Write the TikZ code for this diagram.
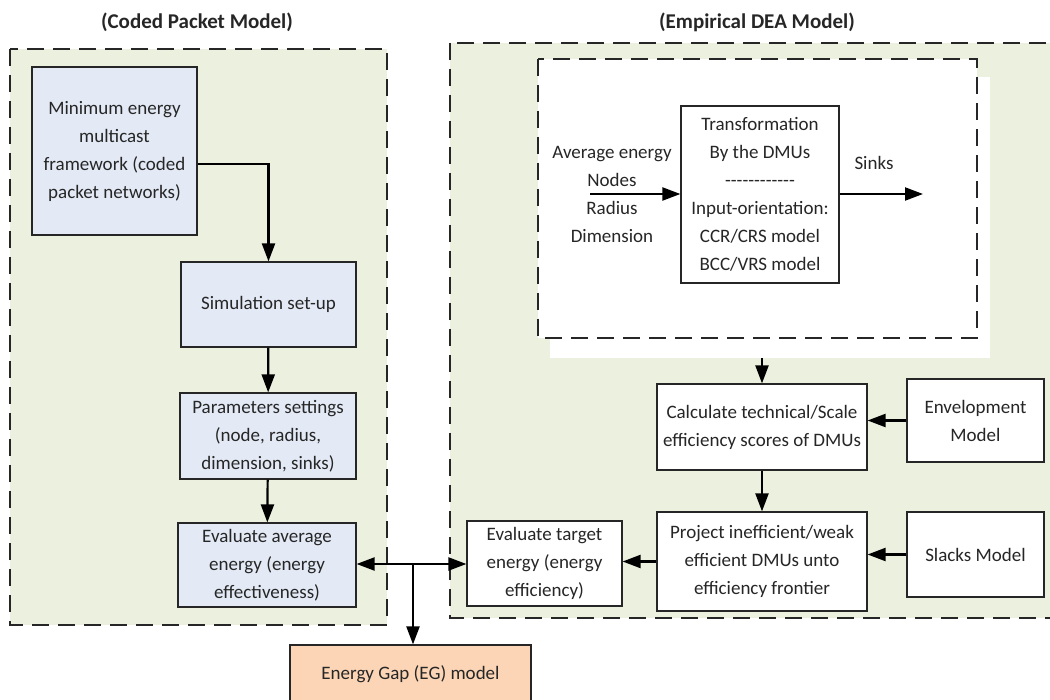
\documentclass[tikz,border=0pt]{standalone}
\usepackage{fontspec}
\setmainfont{Carlito}
\usepackage{tikz}
\usetikzlibrary{arrows.meta, positioning, calc}
\definecolor{PanelGreen}{HTML}{EBF1DE}
\definecolor{StepBlue}{HTML}{E3EAF6}
\definecolor{GapOrange}{HTML}{FBD5B5}
\definecolor{InkGray}{HTML}{262626}
% row of plain hyphens (no dash ligatures)
\newcommand{\hyphenrow}{-{}-{}-{}-{}-{}-{}-{}-{}-{}-{}-{}-}

\begin{document}
\begin{tikzpicture}[x=1pt, y=-1pt,
    txt/.style={font=\fontsize{19}{28}\selectfont, text=InkGray, align=center},
    stepbox/.style={txt, draw=InkGray, line width=1.2pt, inner sep=0pt},
    bluebox/.style={stepbox, fill=StepBlue},
    whitebox/.style={stepbox, fill=white},
    panel/.style={draw=InkGray, line width=1.6pt, dash pattern=on 17pt off 9pt},
    paneltitle/.style={font=\fontsize{21}{25}\selectfont\bfseries, text=InkGray},
    link/.style={line width=2.2pt, -{Triangle[length=18pt, width=13pt]}},
    duplex/.style={line width=2.2pt, {Triangle[length=18pt, width=13pt]}-{Triangle[length=18pt, width=13pt]}}]

    \useasboundingbox (0,0) rectangle (1050,700);
    \clip (0,0) rectangle (1050,700);

    % the two model panels
    \filldraw[panel, fill=PanelGreen] (10,49) rectangle (387,625);
    \filldraw[panel, fill=PanelGreen] (450,43) rectangle (1070,618);
    \node[paneltitle] (cpmtitle) at (197,22) {(Coded Packet Model)};
    \node[paneltitle] (deatitle) at (757,22) {(Empirical DEA Model)};

    % DEA input/output block
    \fill[white] (550,77) rectangle (990,358);
    \filldraw[panel, fill=white] (538,59) rectangle (977,338);

    % coded packet side
    \node[bluebox, minimum width=165pt, minimum height=168pt] (mef) at (114.5,151) {Minimum energy\\multicast\\framework (coded\\packet networks)};
    \node[bluebox, minimum width=175pt, minimum height=85pt] (sim) at (268.5,304.5) {Simulation set-up};
    \node[bluebox, minimum width=176pt, minimum height=86pt] (par) at (268,436) {Parameters settings\\(node, radius,\\dimension, sinks)};
    \node[bluebox, minimum width=178pt, minimum height=84pt] (eva) at (267,565) {Evaluate average\\energy (energy\\effectiveness)};

    % DEA side
    \node[txt] (inputs) at (612,194.5) {Average energy\\Nodes\\Radius\\Dimension};
    \node[whitebox, minimum width=158pt, minimum height=177pt] (trf) at (760,194.5) {Transformation\\By the DMUs\\\hyphenrow\\Input-orientation:\\CCR/CRS model\\BCC/VRS model};
    \node[txt] (sinks) at (874,163) {Sinks};
    \node[whitebox, minimum width=210pt, minimum height=86pt] (calc) at (762,427) {Calculate technical/Scale\\efficiency scores of DMUs};
    \node[whitebox, minimum width=210pt, minimum height=99pt] (proj) at (762,561.5) {Project inefficient/weak\\efficient DMUs unto\\efficiency frontier};
    \node[whitebox, minimum width=155pt, minimum height=85pt] (tgt) at (544.5,563.5) {Evaluate target\\energy (energy\\efficiency)};
    \node[whitebox, minimum width=137pt, minimum height=83pt] (env) at (975.5,420.5) {Envelopment\\Model};
    \node[whitebox, minimum width=137pt, minimum height=85pt] (slk) at (975.5,554.5) {Slacks Model};

    % gap model
    \node[stepbox, fill=GapOrange, minimum width=241pt, minimum height=58pt] (eg) at (410.5,674) {Energy Gap (EG) model};

    \coordinate (inp) at (590,194);
    \coordinate (snk) at (923,194);
    \coordinate (deaout) at (762,358);
    \coordinate (jn) at (413,564);

    % connectors
    \draw[link] ([yshift=-13pt]mef.east) -| (sim.north);
    \draw[link] (sim) -- (par);
    \draw[link] (par) -- (eva);
    \draw[link] (inp) -- (trf.west |- inp);
    \draw[link] (trf.east |- snk) -- (snk);
    \draw[link] (deaout) -- (calc.north);
    \draw[link] (calc) -- (proj);
    \draw[link] (env.west) -- (env.west -| calc.east);
    \draw[link] (slk.west) -- (slk.west -| proj.east);
    \draw[link] (proj.west) -- (proj.west -| tgt.east);
    \draw[duplex] (eva.east |- jn) -- (tgt.west |- jn);
    \draw[link] (jn) -- (jn |- eg.north);
\end{tikzpicture}
\end{document}
